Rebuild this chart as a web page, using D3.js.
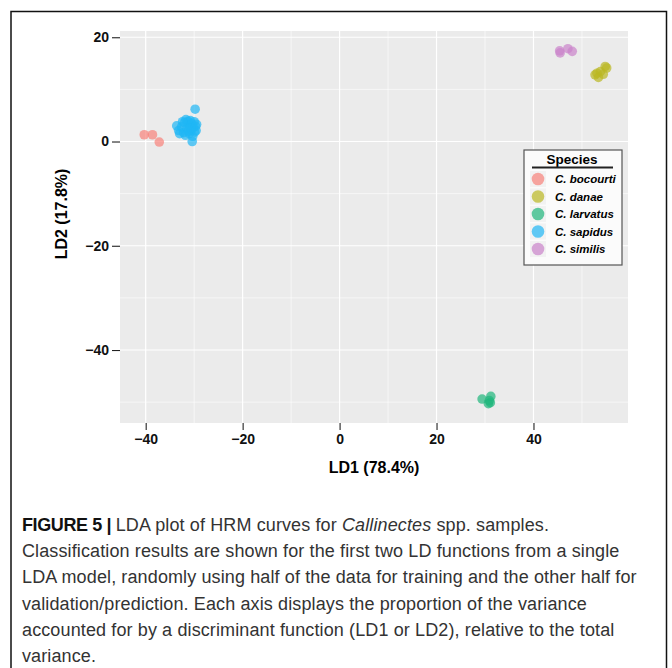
<!DOCTYPE html>
<html>
<head>
<meta charset="utf-8">
<script src="https://cdn.jsdelivr.net/npm/d3@7"></script>
<style>
  body { margin: 0; background: #fff; }
  svg { display: block; }
</style>
</head>
<body>
<script>
  // Data
  let species = ["C. bocourti", "C. danae", "C. larvatus", "C. sapidus", "C. similis"];
  let colors = ["#f8817a", "#bab822", "#20b77c", "#1fb6f5", "#ca83ca"];
  let bocourti = [[-40.3, 1.3], [-38.6, 1.3], [-37.2, -0.1]];
  let danae = [[54.8, 14.4], [53.8, 13.4], [52.7, 12.8], [54.4, 12.9], [53.4, 12.3], [55.1, 14.1], [53.1, 13.1]];
  let larvatus = [[29.4, -49.4], [31.2, -48.9], [31.1, -50.1], [30.7, -50.3], [30.9, -49.7]];
  let sapidus = [[-33.6, 3.0], [-33.2, 2.1], [-32.6, 2.8], [-32.2, 1.7], [-32.0, 3.6], [-31.7, 4.2],
    [-31.5, 2.5], [-31.3, 3.9], [-31.0, 1.5], [-30.9, 3.0], [-30.8, 4.0], [-30.6, 2.2], [-30.5, 3.4],
    [-30.3, 1.0], [-30.2, 2.7], [-30.0, 3.8], [-29.9, 1.8], [-29.7, 2.9], [-29.6, 2.1], [-31.8, 1.2],
    [-32.4, 3.8], [-30.4, 0.0], [-29.8, 6.2], [-31.2, 2.0], [-30.7, 2.6], [-29.5, 3.3], [-33.0, 1.5]];
  let similis = [[45.5, 17.0], [47.1, 17.8], [48.0, 17.3], [45.4, 17.4]];
  let groups = [bocourti, danae, larvatus, sapidus, similis];
  let xTicks = [-40, -20, 0, 20, 40];
  let yTicks = [20, 0, -20, -40];
  let xMinor = [-30, -10, 10, 30, 50];
  let yMinor = [10, -10, -30, -50];

  let W = 672, H = 668;
  let svg = d3.select("body").append("svg")
      .attr("width", W)
      .attr("height", H);

  // Outer frame (open at the bottom)
  svg.append("path")
      .attr("d", "M11,670 L11,11.5 L666.5,11.5 L666.5,670")
      .attr("fill", "none")
      .attr("stroke", "#111")
      .attr("stroke-width", 1.5);

  // Panel
  let pLeft = 120, pRight = 628, pTop = 31, pBottom = 423;
  let x = d3.scaleLinear().domain([-45.3, 59.5]).range([pLeft, pRight]);
  let y = d3.scaleLinear().domain([-54.0, 21.2]).range([pBottom, pTop]);

  svg.append("rect")
      .attr("x", pLeft).attr("y", pTop)
      .attr("width", pRight - pLeft).attr("height", pBottom - pTop)
      .attr("fill", "#ebebeb");

  let grid = svg.append("g");
  xMinor.forEach(function(v) {
    grid.append("line").attr("x1", x(v)).attr("x2", x(v)).attr("y1", pTop).attr("y2", pBottom)
      .attr("stroke", "#fff").attr("stroke-width", 0.6);
  });
  yMinor.forEach(function(v) {
    grid.append("line").attr("x1", pLeft).attr("x2", pRight).attr("y1", y(v)).attr("y2", y(v))
      .attr("stroke", "#fff").attr("stroke-width", 0.6);
  });
  xTicks.forEach(function(v) {
    grid.append("line").attr("x1", x(v)).attr("x2", x(v)).attr("y1", pTop).attr("y2", pBottom)
      .attr("stroke", "#fff").attr("stroke-width", 1.2);
  });
  yTicks.forEach(function(v) {
    grid.append("line").attr("x1", pLeft).attr("x2", pRight).attr("y1", y(v)).attr("y2", y(v))
      .attr("stroke", "#fff").attr("stroke-width", 1.2);
  });

  // Axes
  let fmt = function(d) { return d < 0 ? "\u2212" + Math.abs(d) : d; };
  let xAxis = svg.append("g")
      .attr("transform", "translate(0," + pBottom + ")")
      .call(d3.axisBottom(x).tickValues(xTicks).tickSize(7).tickPadding(4).tickFormat(fmt));
  let yAxis = svg.append("g")
      .attr("transform", "translate(" + pLeft + ",0)")
      .call(d3.axisLeft(y).tickValues(yTicks).tickSize(8).tickPadding(3).tickFormat(fmt));
  [xAxis, yAxis].forEach(function(a) {
    a.select(".domain").remove();
    a.selectAll(".tick line").attr("stroke", "#222").attr("stroke-width", 1.1);
    a.selectAll(".tick text")
      .attr("fill", "#111")
      .style("font-family", "'Liberation Sans', Arial, sans-serif")
      .style("font-weight", "bold")
      .style("font-size", "14px");
  });

  svg.append("text")
      .attr("x", (pLeft + pRight) / 2)
      .attr("y", 473)
      .attr("text-anchor", "middle")
      .style("font-family", "'Liberation Sans', Arial, sans-serif")
      .style("font-weight", "bold")
      .style("font-size", "16px")
      .text("LD1 (78.4%)");

  svg.append("text")
      .attr("transform", "translate(67,214) rotate(-90)")
      .attr("text-anchor", "middle")
      .style("font-family", "'Liberation Sans', Arial, sans-serif")
      .style("font-weight", "bold")
      .style("font-size", "16px")
      .text("LD2 (17.8%)");

  // Points
  let pts = svg.append("g");
  groups.forEach(function(g, i) {
    pts.selectAll(null).data(g).enter().append("circle")
      .attr("cx", function(d) { return x(d[0]); })
      .attr("cy", function(d) { return y(d[1]); })
      .attr("r", 4.8)
      .attr("fill", colors[i])
      .attr("fill-opacity", 0.7);
  });

  // Legend
  let lg = svg.append("g").attr("transform", "translate(524,150)");
  lg.append("rect")
      .attr("width", 98).attr("height", 115)
      .attr("fill", "#fbfbfb")
      .attr("stroke", "#555")
      .attr("stroke-width", 1.2);
  lg.append("text")
      .attr("x", 48).attr("y", 14)
      .attr("text-anchor", "middle")
      .style("font-family", "'Liberation Sans', Arial, sans-serif")
      .style("font-weight", "bold")
      .style("font-size", "13.5px")
      .text("Species");
  lg.append("line")
      .attr("x1", 8).attr("x2", 89).attr("y1", 17.5).attr("y2", 17.5)
      .attr("stroke", "#222").attr("stroke-width", 2.2);
  species.forEach(function(s, i) {
    let yy = 29 + i * 17.5;
    lg.append("rect")
      .attr("x", 6).attr("y", yy - 8).attr("width", 16).attr("height", 16)
      .attr("fill", "#f2f2f2");
    lg.append("circle")
      .attr("cx", 14).attr("cy", yy).attr("r", 6.3)
      .attr("fill", colors[i]).attr("fill-opacity", 0.7);
    lg.append("text")
      .attr("x", 31).attr("y", yy + 4)
      .style("font-family", "'Liberation Sans', Arial, sans-serif")
      .style("font-weight", "bold")
      .style("font-style", "italic")
      .style("font-size", "11.5px")
      .text(s);
  });

  // Caption
  let caption = [
    [["FIGURE 5 | ", "bold"], ["LDA plot of HRM curves for ", ""], ["Callinectes", "italic"], [" spp. samples.", ""]],
    [["Classification results are shown for the first two LD functions from a single", ""]],
    [["LDA model, randomly using half of the data for training and the other half for", ""]],
    [["validation/prediction. Each axis displays the proportion of the variance", ""]],
    [["accounted for by a discriminant function (LD1 or LD2), relative to the total", ""]],
    [["variance.", ""]]
  ];
  caption.forEach(function(line, i) {
    let t = svg.append("text")
        .attr("x", 22)
        .attr("y", 531 + i * 26.2)
        .attr("fill", "#333")
        .style("font-family", "'Liberation Sans', Arial, sans-serif")
        .style("font-size", "18px")
        .style("letter-spacing", "0.12px");
    line.forEach(function(seg) {
      let ts = t.append("tspan").text(seg[0]);
      if (seg[1] === "bold") ts.style("font-weight", "bold").style("letter-spacing", "-0.4px").attr("fill", "#111");
      if (seg[1] === "italic") ts.style("font-style", "italic");
    });
  });
</script>
</body>
</html>
